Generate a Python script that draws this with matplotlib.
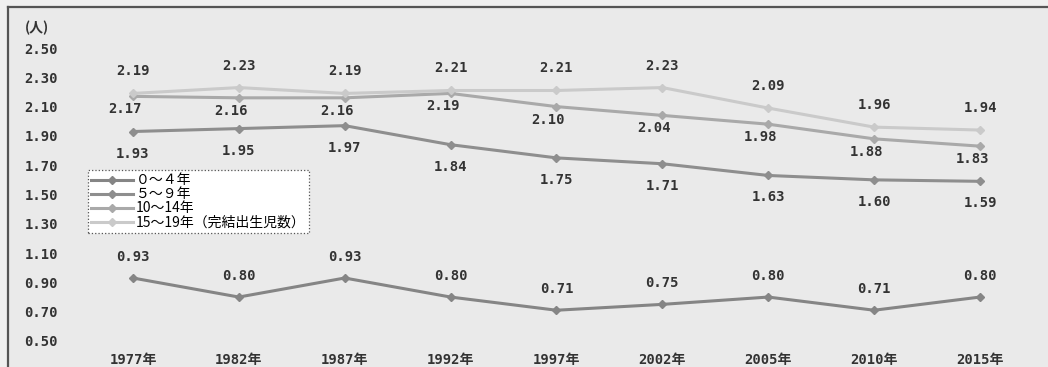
import matplotlib.pyplot as plt

# Average number of children by years of marriage duration (出生動向基本調査)
years = ['1977年', '1982年', '1987年', '1992年', '1997年',
         '2002年', '2005年', '2010年', '2015年']
series_names = ['０～４年', '５～９年', '10～14年', '15～19年（完結出生児数）']

dur_0_4 = [0.93, 0.80, 0.93, 0.80, 0.71, 0.75, 0.80, 0.71, 0.80]
dur_5_9 = [1.93, 1.95, 1.97, 1.84, 1.75, 1.71, 1.63, 1.60, 1.59]
dur_10_14 = [2.17, 2.16, 2.16, 2.19, 2.10, 2.04, 1.98, 1.88, 1.83]
dur_15_19 = [2.19, 2.23, 2.19, 2.21, 2.21, 2.23, 2.09, 1.96, 1.94]

y_ticks = [0.50, 0.70, 0.90, 1.10, 1.30, 1.50, 1.70, 1.90, 2.10, 2.30, 2.50]

MONO = ['DejaVu Sans Mono', 'Noto Sans CJK JP']
CJK = ['Noto Sans CJK JP', 'DejaVu Sans']


def main():
    fig = plt.figure(figsize=(10.48, 3.67), dpi=100)
    fig.patch.set_facecolor('#f0f0f0')
    ax = fig.add_axes([8 / 1048, 0, 1040 / 1048, 360 / 367])
    ax.set_facecolor('#eaeaea')

    # colour, label offset (x px, y px) for each series
    styles = [
        (dur_0_4, '#858585', (0, 21)),
        (dur_5_9, '#8e8e8e', (0, -22)),
        (dur_10_14, '#a9a9a9', (-8, -13)),
        (dur_15_19, '#cacaca', (0, 22)),
    ]
    x = list(range(len(years)))
    lines = []
    for (vals, col, off), name in zip(styles, series_names):
        ln, = ax.plot(x, vals, color=col, lw=2.2, marker='D', ms=4.5,
                      mfc=col, mec=col, label=name, zorder=3)
        lines.append(ln)
        for xi, v in zip(x, vals):
            ax.annotate(f'{v:.2f}', (xi, v), xytext=off,
                        textcoords='offset pixels', ha='center', va='center',
                        fontsize=10, fontweight='bold', color='#333333',
                        family=MONO, zorder=4)

    ax.set_xlim(-1.180, 8.642)
    ax.set_ylim(0.3225, 2.780)

    ax.set_xticks(x, years)
    ax.set_yticks(y_ticks, [f'{t:.2f}' for t in y_ticks])
    ax.tick_params(axis='y', length=0, pad=-36)
    ax.tick_params(axis='x', length=0, pad=-10)
    for lab in ax.get_xticklabels() + ax.get_yticklabels():
        lab.set_family(MONO)
        lab.set_fontweight('bold')
        lab.set_fontsize(10)
        lab.set_color('#333333')

    ax.text(17 / 1040, 2.636, '(人)', transform=ax.get_yaxis_transform(),
            ha='left', va='center', fontsize=10, fontweight='bold',
            family=CJK, color='#333333')

    for side in ('right', 'bottom'):
        ax.spines[side].set_visible(False)
    for side in ('top', 'left'):
        ax.spines[side].set_color('#555555')
        ax.spines[side].set_linewidth(1.6)

    leg = ax.legend(handles=lines, loc='upper left',
                    bbox_to_anchor=(88 / 1048, 1 - 170 / 367),
                    bbox_transform=fig.transFigure, fancybox=False,
                    framealpha=1, facecolor='white', edgecolor='#555555',
                    handlelength=3.0, handletextpad=0.2, labelspacing=0.0,
                    borderpad=0.25, borderaxespad=0,
                    prop={'family': CJK, 'size': 10})
    leg.get_frame().set_linestyle(':')
    leg.get_frame().set_linewidth(0.9)

    fig.savefig('out.png', dpi=100, facecolor=fig.get_facecolor())


if __name__ == '__main__':
    main()
